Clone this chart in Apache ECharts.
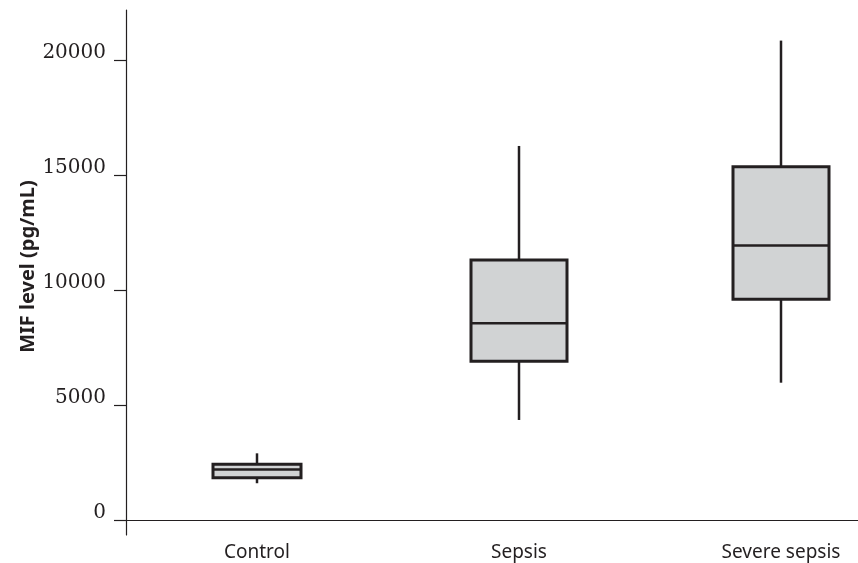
<!DOCTYPE html>
<html><head><meta charset="utf-8">
<script src="https://cdn.jsdelivr.net/npm/echarts@6/dist/echarts.min.js"></script>
<style>html,body{margin:0;padding:0;background:#fff}#c{width:858px;height:563px}</style>
</head><body><div id="c"></div>
<script>
const categories = ['Control', 'Sepsis', 'Severe sepsis'];
const whiskerLow = [1630, 4380, 6000];
const q1 = [1870, 6930, 9630];
const median = [2230, 8580, 11960];
const q3 = [2450, 11330, 15390];
const whiskerHigh = [2930, 16290, 20870];
const yTicks = [0, 5000, 10000, 15000, 20000];

const boxWidths = [88, 96, 96];
const ink = '#231f20';

const data = categories.map((c, i) => [i, whiskerLow[i], q1[i], median[i], q3[i], whiskerHigh[i]]);

const chart = echarts.init(document.getElementById('c'));
chart.setOption({
  animation: false,
  grid: { left: 126, right: -54, top: 10, bottom: 28, containLabel: false, outerBoundsMode: 'none' },
  xAxis: {
    type: 'category',
    data: categories,
    boundaryGap: true,
    axisLine: { onZero: true, lineStyle: { color: ink, width: 1.2 } },
    axisTick: { alignWithLabel: true, length: 13, lineStyle: { color: ink, width: 1.2 } },
    axisLabel: { color: ink, fontFamily: 'Noto Sans', fontSize: 19, margin: 8 },
    splitLine: { show: false }
  },
  yAxis: {
    type: 'value',
    min: -620,
    max: 22200,
    name: 'MIF level (pg/mL)',
    nameLocation: 'middle',
    nameGap: 88,
    nameMoveOverlap: false,
    nameTextStyle: { color: ink, fontFamily: 'Noto Sans', fontWeight: 'bold', fontSize: 20, padding: [0, 0, 0, 12] },
    axisLine: { show: true, lineStyle: { color: ink, width: 1.2 } },
    axisTick: { show: true, length: 12, customValues: yTicks, lineStyle: { color: ink, width: 1.2 } },
    axisLabel: {
      customValues: yTicks, color: ink, fontFamily: 'DejaVu Serif', fontSize: 20, margin: 20,
      verticalAlign: 'bottom', lineHeight: 15,
      formatter: function (v) { return String(v); }
    },
    splitLine: { show: false }
  },
  series: [{
    type: 'custom',
    data: data,
    encode: { x: 0, y: [1, 2, 3, 4, 5] },
    renderItem: function (params, api) {
      const i = api.value(0);
      const x = api.coord([i, 0])[0];
      const yl = api.coord([i, api.value(1)])[1];
      const y1 = api.coord([i, api.value(2)])[1];
      const ym = api.coord([i, api.value(3)])[1];
      const y3 = api.coord([i, api.value(4)])[1];
      const yh = api.coord([i, api.value(5)])[1];
      const w = boxWidths[i];
      return {
        type: 'group',
        children: [
          { type: 'line', shape: { x1: x, y1: yh, x2: x, y2: y3 }, style: { stroke: ink, lineWidth: 2.5 } },
          { type: 'line', shape: { x1: x, y1: y1, x2: x, y2: yl }, style: { stroke: ink, lineWidth: 2.5 } },
          { type: 'rect', shape: { x: x - w / 2, y: y3, width: w, height: y1 - y3 }, style: { fill: '#d1d3d4', stroke: ink, lineWidth: 3 } },
          { type: 'line', shape: { x1: x - w / 2, y1: ym, x2: x + w / 2, y2: ym }, style: { stroke: ink, lineWidth: 2.5 } }
        ]
      };
    }
  }]
});
</script>
</body></html>
